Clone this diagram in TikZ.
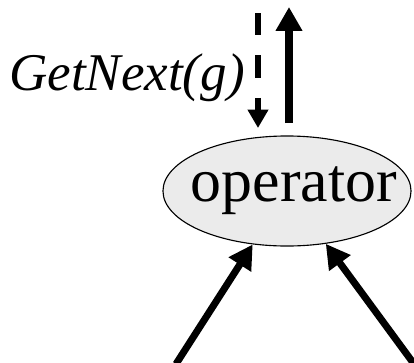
\documentclass[tikz,border=0pt]{standalone}
\usepackage{fontspec}
\setmainfont{Liberation Serif}
\usetikzlibrary{arrows.meta,shapes.geometric}
\tikzset{
  op/.style={draw,ellipse,fill=black!8,line width=0.8pt,inner sep=0pt,
             minimum width=6.2cm,minimum height=2.75cm,
             font=\fontsize{44}{48}\selectfont},
  thk/.style={-{Triangle[length=17pt,width=18pt]},line width=5pt},
  dsh/.style={-{Triangle[length=13pt,width=14pt]},line width=3.6pt,
              dash pattern=on 15.8pt off 14.4pt},
  lbl/.style={font=\fontsize{37.7}{40}\selectfont\itshape,inner sep=0pt}
}

\begin{document}
\begin{tikzpicture}[x=0.025cm,y=-0.025cm]
  \useasboundingbox (0,0) rectangle (414,362);
  \node[op] (oper) at (287,191) {\makebox[0pt]{\hspace*{10pt}operator}};
  % call down, tuple up
  \coordinate (callS) at (258,13);
  \coordinate (callE) at (258,128);
  \coordinate (outS)  at (289,123);
  \coordinate (outE)  at (289,7);
  \draw[dsh] (callS) -- (callE);
  \draw[thk] (outS) -- (outE);
  \node[lbl,anchor=base east] (getn) at (245,90) {GetNext(g)};
  % inputs
  \coordinate (inL) at (176,364);
  \coordinate (inR) at (414,364);
  \draw[thk] (inL) -- (oper);
  \draw[thk] (inR) -- (oper);
\end{tikzpicture}
\end{document}
